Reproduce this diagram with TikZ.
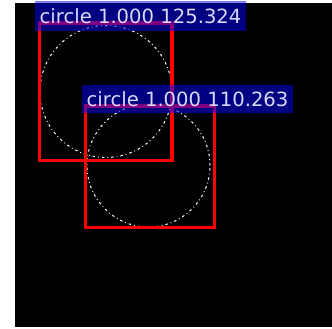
\documentclass[tikz,border=0pt]{standalone}
\usepackage{fontspec}
\setmainfont{DejaVu Sans}
\usepackage{tikz}
\usetikzlibrary{positioning}

\begin{document}
\begin{tikzpicture}[
		x=1pt,y=-1pt,
		font=\fontsize{19.6}{22}\selectfont,
		det/.style={draw=red,line width=3.2pt,inner sep=0pt,outer sep=0pt},
		ring/.style={circle,draw=white,line width=1pt,inner sep=0pt,dash pattern=on 2.5pt off 3pt on 0.8pt off 3pt},
		tag/.style={anchor=north west,fill=blue,fill opacity=0.5,text opacity=1,text=white!85!blue,inner xsep=4.5pt,inner ysep=0pt,minimum height=28pt}
		]

		\useasboundingbox (0,0) rectangle (332,329);
		\fill[white] (0,0) rectangle (332,329);
		\fill[black] (15,3) rectangle (332,327);

		\node[ring,minimum size=132pt] (c1) at (106,91.5) {};
		\node[ring,minimum size=123pt] (c2) at (148.5,165.5) {};
		\node[det,minimum width=132.5pt,minimum height=137.5pt] (det1) at (105.75,91.75) {};
		\node[det,minimum width=129pt,minimum height=121.5pt] (det2) at (150,166.75) {};

		\node[tag,minimum height=30.5pt] (tag1) at (35,0.5) {circle 1.000 125.324};
		\node[tag] (tag2) at (82,84.5) {circle 1.000 110.263};

	\end{tikzpicture}
\end{document}
